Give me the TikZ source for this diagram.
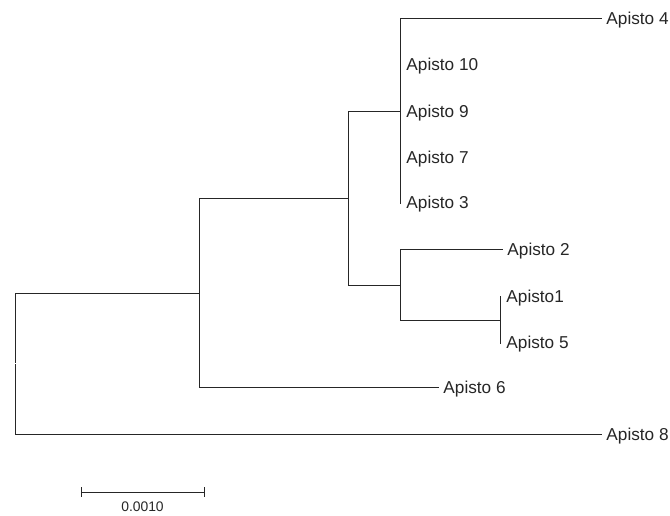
\documentclass[tikz,border=0pt]{standalone}
\usepackage{fontspec}
\setmainfont{Liberation Sans}
\begin{document}
\begin{tikzpicture}[x=0.75pt,y=-0.75pt,
  br/.style={draw=black!85,line width=0.75pt,line cap=rect},
  leaf/.style={anchor=west,inner xsep=3.9pt,inner ysep=0pt,font=\fontsize{12.9}{14}\selectfont,text=black!85},
  lbl/.style={anchor=west,inner xsep=3.9pt,inner ysep=0pt,font=\fontsize{12.9}{14}\selectfont,text=black!85,yshift=-1.3pt},
  scl/.style={font=\fontsize{10.4}{12}\selectfont,text=black!85}]
\useasboundingbox (0,0) rectangle (670,515);
% internal nodes
\coordinate (Rt) at (15,293);
\coordinate (Rb) at (15,434);
\coordinate (A) at (199,293);
\coordinate (At) at (199,198);
\coordinate (Ab) at (199,387);
\coordinate (B) at (348,198);
\coordinate (Bt) at (348,111);
\coordinate (Bb) at (348,285);
\coordinate (C) at (400,111);
\coordinate (Ct) at (400,18);
\coordinate (Cb) at (400,203);
\coordinate (D) at (400,285);
\coordinate (Dt) at (400,249);
\coordinate (Db) at (400,320);
\coordinate (E) at (500,320);
\coordinate (Et) at (500,296);
\coordinate (Eb) at (500,343);
% leaves (connection points)
\coordinate (L4) at (601,18);
\coordinate (L2) at (502,249);
\coordinate (L6) at (438,387);
\coordinate (L8) at (601,434);
% labels
\node[lbl] (T4) at (L4) {Apisto 4};
\node[lbl] (T10) at (401,64) {Apisto 10};
\node[lbl] (T9) at (401,111) {Apisto 9};
\node[lbl] (T7) at (401,157) {Apisto 7};
\node[lbl] (T3) at (401,202) {Apisto 3};
\node[lbl] (T2) at (L2) {Apisto 2};
\node[lbl] (T1) at (501,296) {Apisto1};
\node[lbl] (T5) at (501,342) {Apisto 5};
\node[lbl] (T6) at (L6) {Apisto 6};
\node[lbl] (T8) at (L8) {Apisto 8};
% branches
\draw[br] (Rt) -- (15,362.5);
\draw[br] (15,364.5) -- (Rb);
\draw[br] (Rt) -- (A);
\draw[br] (Rb) -- (L8);
\draw[br] (At) -- (Ab);
\draw[br] (At) -- (B);
\draw[br] (Ab) -- (L6);
\draw[br] (Bt) -- (Bb);
\draw[br] (Bt) -- (C);
\draw[br] (Bb) -- (D);
\draw[br] (Ct) -- (Cb);
\draw[br] (Ct) -- (L4);
\draw[br] (Dt) -- (Db);
\draw[br] (Dt) -- (L2);
\draw[br] (Db) -- (E);
\draw[br] (Et) -- (Eb);
% scale bar
\coordinate (S1) at (81,492);
\coordinate (S2) at (204,492);
\draw[br,line cap=butt] (S1) -- (S2);
\draw[br,line cap=butt] ([yshift=-3.5pt]S1) -- ([yshift=3.5pt]S1);
\draw[br,line cap=butt] ([yshift=-3.5pt]S2) -- ([yshift=3.5pt]S2);
\node[scl] (SL) at (142.5,507) {0.0010};
\end{tikzpicture}
\end{document}
